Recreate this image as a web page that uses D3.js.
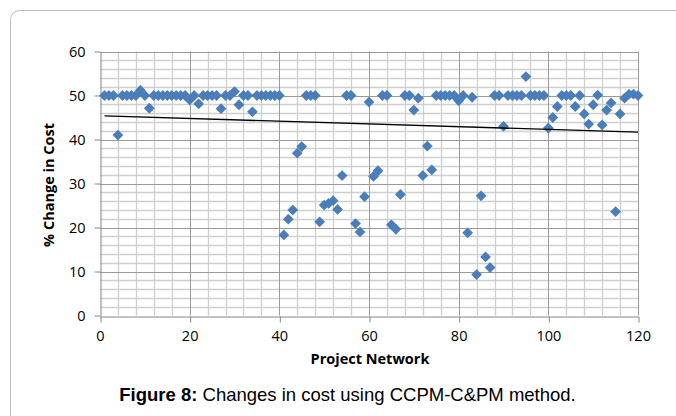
<!DOCTYPE html>
<html><head><meta charset="utf-8">
<script src="https://cdn.jsdelivr.net/npm/d3@7"></script>
<style>html,body{margin:0;padding:0;background:#fff;}svg{display:block;}</style>
</head><body>
<svg id="c" width="676" height="416"></svg>
<script>
// Data: project number -> % change in cost
const projects = d3.range(1, 121);
const costChange = [
 50, 50, 50, 41, 50, 50, 50, 50, 51.2, 50,     // 1-10
 47.1, 50, 50, 50, 50, 50, 50, 50, 50, 49,     // 11-20
 50, 48.1, 50, 50, 50, 50, 47.0, 50, 50, 50.9, // 21-30
 47.9, 50, 50, 46.3, 50, 50, 50, 50, 50, 50,   // 31-40
 18.3, 21.9, 24.0, 36.9, 38.4, 50, 50, 50, 21.3, 25.1, // 41-50
 25.5, 26.1, 24.1, 31.8, 50, 50, 20.9, 19.0, 27.0, 48.5, // 51-60
 31.6, 32.9, 50, 50, 20.6, 19.6, 27.5, 50, 50, 46.7,   // 61-70
 49.4, 31.8, 38.5, 33.1, 50, 50, 50, 50, 50, 48.8,     // 71-80
 50, 18.8, 49.6, 9.3, 27.2, 13.3, 10.9, 50, 50, 43.0,  // 81-90
 50, 50, 50, 50, 54.3, 50, 50, 50, 50, 42.6,           // 91-100
 45.0, 47.5, 50, 50, 50, 47.5, 50, 45.8, 43.5, 47.9,   // 101-110
 50.1, 43.3, 46.7, 48.3, 23.6, 45.8, 49.4, 50.3, 50.3, 50 // 111-120
];
const xTicks = [0, 20, 40, 60, 80, 100, 120];
const yTicks = [0, 10, 20, 30, 40, 50, 60];
const xLabel = "Project Network";
const yLabel = "% Change in Cost";
const captionBold = "Figure 8:";
const captionText = " Changes in cost using CCPM-C&PM method.";

const svg = d3.select("#c");
const x = d3.scaleLinear().domain([0, 120]).range([100, 638]);
const y = d3.scaleLinear().domain([0, 60]).range([315.5, 51.5]);

// outer frame (cropped)
svg.append("rect").attr("x", 10.5).attr("y", 10.5).attr("width", 720).attr("height", 480)
  .attr("rx", 9).attr("fill", "none").attr("stroke", "#bdbdbd").attr("stroke-width", 1);

const g = svg.append("g");
const snap = v => Math.round(v) + 0.5;

// minor grid
const yMinor = d3.range(0, 61, 2).filter(v => v % 10 !== 0);
const xMinor = d3.range(0, 121, 4).filter(v => v % 20 !== 0);
g.selectAll(".ym").data(yMinor).join("line")
  .attr("x1", x(0)).attr("x2", x(120)).attr("y1", d => snap(y(d))).attr("y2", d => snap(y(d)))
  .attr("stroke", "#cfcfcf").attr("stroke-width", 1.3);
g.selectAll(".xm").data(xMinor).join("line")
  .attr("y1", y(0)).attr("y2", y(60)).attr("x1", d => snap(x(d))).attr("x2", d => snap(x(d)))
  .attr("stroke", "#cfcfcf").attr("stroke-width", 1.3);
// major grid
g.selectAll(".yM").data(yTicks.filter(v => v > 0)).join("line")
  .attr("x1", x(0)).attr("x2", x(120)).attr("y1", d => snap(y(d))).attr("y2", d => snap(y(d)))
  .attr("stroke", "#9a9a9a").attr("stroke-width", 1);
g.selectAll(".xM").data(xTicks.filter(v => v > 0)).join("line")
  .attr("y1", y(0)).attr("y2", y(60)).attr("x1", d => snap(x(d))).attr("x2", d => snap(x(d)))
  .attr("stroke", "#9a9a9a").attr("stroke-width", 1);

// axes
const xAxis = d3.axisBottom(x).tickValues(xTicks).tickSize(6).tickPadding(8).tickSizeOuter(0);
const yAxis = d3.axisLeft(y).tickValues(yTicks).tickSize(6).tickPadding(9).tickSizeOuter(0);
const gx = svg.append("g").attr("transform", `translate(0,${snap(y(0))})`).call(xAxis);
const gy = svg.append("g").attr("transform", `translate(${snap(x(0))},0)`).call(yAxis);
[gx, gy].forEach(a => {
  a.select(".domain").attr("stroke", "#868686");
  a.selectAll(".tick line").attr("stroke", "#868686");
  a.selectAll("text").attr("font-family", "Open Sans, sans-serif").attr("font-size", 14.5).attr("fill", "#000");
});
gx.selectAll(".tick line").attr("transform", "translate(0.5,0)");

// points
const data = projects.map((p, i) => ({p, v: costChange[i]}));
const sym = d3.symbol().type(d3.symbolSquare).size(58);
svg.append("g").selectAll("path").data(data).join("path")
  .attr("d", sym)
  .attr("transform", d => `translate(${x(d.p)},${y(d.v)}) rotate(45)`)
  .attr("fill", "#4a7ebb");

// linear trendline (least squares)
const mx = d3.mean(data, d => d.p), my = d3.mean(data, d => d.v);
const slope = d3.sum(data, d => (d.p - mx) * (d.v - my)) / d3.sum(data, d => (d.p - mx) ** 2);
const icpt = my - slope * mx;
const xr = d3.extent(data, d => d.p);
svg.append("line")
  .attr("x1", x(xr[0])).attr("y1", y(icpt + slope * xr[0]))
  .attr("x2", x(xr[1])).attr("y2", y(icpt + slope * xr[1]))
  .attr("stroke", "#000").attr("stroke-width", 1.3);

// axis titles
svg.append("text").attr("x", 370).attr("y", 364).attr("text-anchor", "middle")
  .attr("font-family", "Open Sans, sans-serif").attr("font-weight", "bold").attr("font-size", 14.5)
  .text(xLabel);
svg.append("text").attr("transform", "translate(54,185) rotate(-90)").attr("text-anchor", "middle")
  .attr("font-family", "Open Sans, sans-serif").attr("font-weight", "bold").attr("font-size", 14.5)
  .text(yLabel);

// caption
const cap = svg.append("text").attr("x", 347.5).attr("y", 401).attr("text-anchor", "middle")
  .attr("font-family", "Liberation Sans, Arial, sans-serif").attr("font-size", 18.5).attr("fill", "#000");
cap.append("tspan").attr("font-weight", "bold").text(captionBold);
cap.append("tspan").text(captionText);
</script>
</body></html>
